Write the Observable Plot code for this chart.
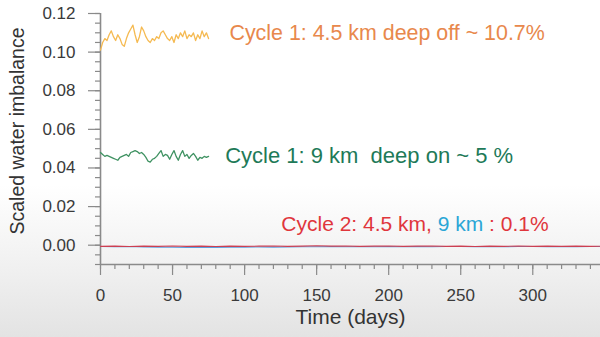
<!DOCTYPE html>
<html>
<head>
<meta charset="utf-8">
<script src="https://cdn.jsdelivr.net/npm/d3@7"></script>
<script src="https://cdn.jsdelivr.net/npm/@observablehq/plot@0.6"></script>
<style>
html,body{margin:0;padding:0;width:600px;height:337px;overflow:hidden;}
body{background:linear-gradient(to bottom,#ffffff 0%,#ffffff 55%,#f0f0f0 80%,#e3e3e3 100%);}
svg{background:transparent;}
</style>
</head>
<body>
<div id="chart"></div>
<script>
// Cycle 1 time axis (days)
const daysC1 = [0,1.5,3,4.5,6,7.5,9,10.5,12,13.5,15,16.5,18,19.5,21,22.5,24,25.5,27,28.5,30,31.5,33,34.5,36,37.5,39,40.5,42,43.5,45,46.5,48,49.5,51,52.5,54,55.5,57,58.5,60,61.5,63,64.5,66,67.5,69,70.5,72,73.5,75];
const cycle1Deep45Off = [0.101,0.105,0.107,0.106,0.109,0.111,0.108,0.106,0.109,0.107,0.104,0.103,0.107,0.110,0.112,0.114,0.109,0.105,0.108,0.113,0.111,0.108,0.106,0.105,0.107,0.106,0.108,0.107,0.110,0.111,0.109,0.107,0.106,0.108,0.105,0.109,0.107,0.110,0.108,0.111,0.107,0.109,0.108,0.110,0.106,0.109,0.107,0.111,0.108,0.110,0.107];
const cycle1Deep9On = [0.048,0.047,0.046,0.0465,0.046,0.0455,0.045,0.0445,0.044,0.0455,0.046,0.0465,0.047,0.046,0.048,0.0485,0.049,0.0485,0.0475,0.048,0.047,0.0455,0.0435,0.043,0.0445,0.045,0.046,0.0475,0.049,0.046,0.047,0.0465,0.0445,0.047,0.049,0.046,0.044,0.047,0.049,0.046,0.047,0.045,0.0465,0.0475,0.046,0.044,0.0455,0.045,0.046,0.0455,0.046];
// Cycle 2 time axis (days)
const daysC2 = [0,10,20,30,40,50,60,70,80,90,100,110,120,130,140,150,160,170,180,190,200,210,220,230,240,250,260,270,280,290,300,310,320,330,340,350];
const cycle2Km45 = [-0.0006,-0.0005,-0.0007,-0.0005,-0.0006,-0.0004,-0.0006,-0.0005,-0.0007,-0.0005,-0.0006,-0.0005,-0.0004,-0.0006,-0.0005,-0.0003,-0.0005,-0.0004,-0.0006,-0.0005,-0.0004,-0.0006,-0.0005,-0.0004,-0.0006,-0.0005,-0.0007,-0.0005,-0.0006,-0.0004,-0.0006,-0.0005,-0.0006,-0.0005,-0.0006,-0.0005];
const cycle2Km9 = [-0.0007,-0.0008,-0.0007,-0.0009,-0.0010,-0.0011,-0.0012,-0.0011,-0.0012,-0.0010,-0.0011,-0.0009,-0.0010,-0.0009,-0.0008,-0.0008,-0.0007,-0.0008,-0.0007,-0.0008,-0.0007,-0.0008,-0.0007,-0.0008,-0.0007,-0.0007,-0.0008,-0.0007,-0.0008,-0.0007,-0.0007,-0.0008,-0.0007,-0.0008,-0.0007,-0.0007];

const yMajorTicks = [0,0.02,0.04,0.06,0.08,0.10,0.12];
const yMinorTicks = [-0.01,-0.005,0,0.005,0.01,0.015,0.02,0.025,0.03,0.035,0.04,0.045,0.05,0.055,0.06,0.065,0.07,0.075,0.08,0.085,0.09,0.095,0.10,0.105,0.11,0.115,0.12];
const xMajorTicks = [0,50,100,150,200,250,300];
const xMinorTicks = [0,10,20,30,40,50,60,70,80,90,100,110,120,130,140,150,160,170,180,190,200,210,220,230,240,250,260,270,280,290,300,310,320,330,340];

const labels = [
  {x: 89.5, y: 0.1097, text: "Cycle 1: 4.5 km deep off ~ 10.7%", color: "#e8884c", size: 21.4},
  {x: 86.5, y: 0.0463, text: "Cycle 1: 9 km  deep on ~ 5 %", color: "#1e7a58", size: 22},
  {x: 125.5, y: 0.0110, text: "Cycle 2: 4.5 km, 9 km : 0.1%", color: "#e0363c", size: 21}
];

const c1 = daysC1.map((d,i)=>({d, off: cycle1Deep45Off[i], on: cycle1Deep9On[i]}));
const c2 = daysC2.map((d,i)=>({d, a: cycle2Km45[i], b: cycle2Km9[i]}));

const axisColor = "#8a8a8a";
const font = "'Liberation Sans', Arial, Helvetica, sans-serif";

const chart = Plot.plot({
  width: 600,
  height: 337,
  marginLeft: 100,
  marginRight: 0,
  marginTop: 13,
  marginBottom: 73,
  style: {fontFamily: font, background: "transparent", overflow: "visible"},
  x: {domain: [0, 347], range: [100, 600]},
  y: {domain: [-0.01, 0.12]},
  marks: [
    Plot.axisY({ticks: yMinorTicks, tickSize: 5, text: null, stroke: axisColor, strokeWidth: 1.2, label: null}),
    Plot.axisY({ticks: yMajorTicks, tickSize: 12, tickPadding: 13, tickFormat: d3.format(".2f"), stroke: axisColor, strokeWidth: 1.2, fill: "#3a3a3a", fontSize: 17, label: null}),
    Plot.axisX({ticks: xMinorTicks, tickSize: 5, text: null, stroke: axisColor, strokeWidth: 1.2, label: null}),
    Plot.axisX({ticks: xMajorTicks, tickSize: 11, tickPadding: 13, tickFormat: d3.format("d"), stroke: axisColor, strokeWidth: 1.2, fill: "#3a3a3a", fontSize: 17, label: null}),
    Plot.ruleX([0], {y1: -0.01, y2: 0.12, stroke: axisColor, strokeWidth: 1.6}),
    Plot.ruleY([-0.01], {stroke: axisColor, strokeWidth: 1.6}),
    Plot.line(c2, {x: "d", y: "b", stroke: "#5a9fe0", strokeWidth: 1.1}),
    Plot.line(c2, {x: "d", y: "a", stroke: "#cc3f52", strokeWidth: 1.1}),
    Plot.line(c1, {x: "d", y: "off", stroke: "#f5ba52", strokeWidth: 1.3}),
    Plot.line(c1, {x: "d", y: "on", stroke: "#3f9262", strokeWidth: 1.3}),
    Plot.text(labels, {x: "x", y: "y", text: "text", fill: "color", fontSize: "size", textAnchor: "start", className: "anno"}),
    Plot.text(["Time (days)"], {frameAnchor: "bottom", textAnchor: "middle", dy: 59, fontSize: 21, fill: "#333"}),
    Plot.text(["Scaled water imbalance"], {frameAnchor: "left", textAnchor: "middle", dx: -83, dy: -8, rotate: -90, fontSize: 19.5, fill: "#333"})
  ]
});

document.getElementById("chart").appendChild(chart);

// color "9 km" in the Cycle 2 annotation blue
d3.select(chart).selectAll("g.anno text").each(function() {
  const t = this.textContent;
  if (t.startsWith("Cycle 2")) {
    const sel = d3.select(this);
    sel.text(null);
    sel.append("tspan").text("Cycle 2: 4.5 km, ");
    sel.append("tspan").attr("fill", "#2aa6d6").text("9 km");
    sel.append("tspan").text(" : 0.1%");
  }
});
</script>
</body>
</html>
